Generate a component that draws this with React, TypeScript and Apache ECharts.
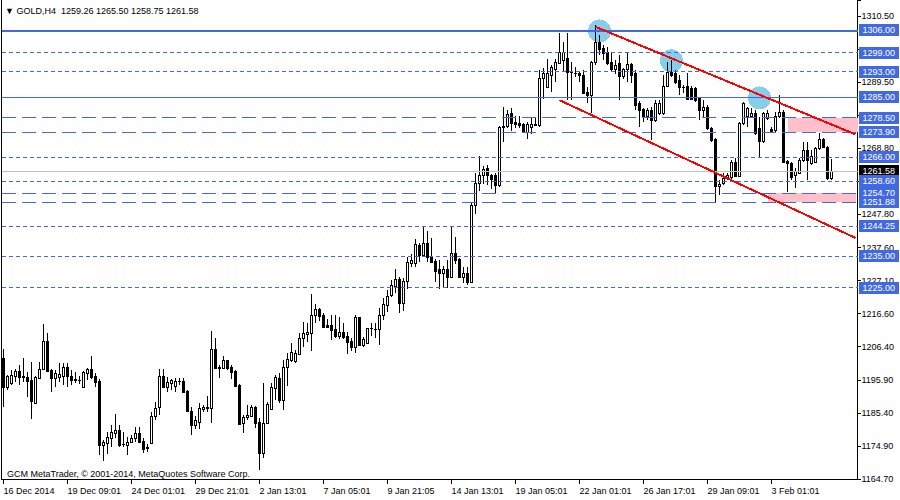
import React, { useEffect, useRef } from "react";
import * as echarts from "echarts";

// ---- data ----
const headerText = "\u25BC GOLD,H4  1259.26 1265.50 1258.75 1261.58";
const copyrightText = "GCM MetaTrader, \u00A9 2001-2014, MetaQuotes Software Corp.";
const barSlots = 214; // 208 bars + empty space on the right
const timeLabelStep = 16;
const timeLabels = [
  "16 Dec 2014", "19 Dec 09:01", "24 Dec 01:01", "29 Dec 21:01", "2 Jan 13:01",
  "7 Jan 05:01", "9 Jan 21:05", "14 Jan 13:01", "19 Jan 05:01", "22 Jan 01:01",
  "26 Jan 17:01", "29 Jan 09:01", "3 Feb 01:01",
];
const priceMin = 1164.7;
const priceMax = 1315.54;
const priceStep = 10.414;
const priceTickLabels = [
  "1164.70", "1174.90", "1185.40", "1195.90", "1206.40", "1216.60", "1227.10",
  "1237.60", "1247.80", "", "1268.80", "", "1289.50", "", "1310.50",
];

// [open, close, low, high]
const ohlc: number[][] = [
  [1202.7, 1193.6, 1187.3, 1205.6], [1193.6, 1197.1, 1192.7, 1197.4], [1194.9, 1197.4, 1194.2, 1199.0], [1197.1, 1198.6, 1195.2, 1199.3],
  [1198.6, 1196.7, 1194.2, 1200.5], [1197.1, 1196.7, 1195.2, 1202.7], [1196.7, 1195.5, 1190.4, 1198.3], [1195.8, 1189.2, 1183.5, 1201.5],
  [1188.6, 1196.7, 1188.2, 1197.1], [1196.4, 1199.3, 1196.4, 1201.5], [1199.3, 1208.1, 1199.0, 1213.4], [1208.1, 1198.6, 1198.6, 1210.6],
  [1199.0, 1196.4, 1192.0, 1199.3], [1196.4, 1198.0, 1193.6, 1199.0], [1196.7, 1197.7, 1195.2, 1201.2], [1197.1, 1199.9, 1194.2, 1201.2],
  [1199.9, 1197.1, 1193.6, 1201.2], [1197.1, 1195.8, 1194.2, 1199.0], [1196.1, 1195.8, 1194.9, 1198.3], [1195.8, 1195.7, 1194.5, 1197.1],
  [1193.6, 1198.3, 1193.5, 1198.6], [1198.0, 1199.3, 1195.8, 1199.6], [1199.3, 1196.7, 1196.1, 1203.4], [1197.1, 1195.2, 1193.6, 1198.0],
  [1195.5, 1175.3, 1172.2, 1196.1], [1175.3, 1176.3, 1170.3, 1176.9], [1176.0, 1177.8, 1172.5, 1179.4], [1177.5, 1179.4, 1174.7, 1181.6],
  [1179.1, 1180.0, 1177.5, 1185.1], [1180.0, 1175.3, 1174.7, 1181.6], [1175.6, 1175.5, 1174.7, 1179.4], [1175.3, 1176.3, 1172.2, 1177.8],
  [1176.3, 1177.5, 1176.0, 1178.5], [1177.5, 1179.1, 1176.3, 1181.0], [1179.1, 1176.3, 1176.0, 1181.0], [1176.6, 1174.1, 1172.8, 1177.5],
  [1174.7, 1174.4, 1173.1, 1175.6], [1176.0, 1184.5, 1175.6, 1185.7], [1184.5, 1187.0, 1183.2, 1188.9], [1187.3, 1197.1, 1184.8, 1199.3],
  [1197.1, 1193.6, 1193.5, 1199.3], [1193.6, 1195.2, 1192.0, 1196.7], [1194.9, 1195.8, 1192.7, 1196.1], [1193.9, 1195.5, 1192.0, 1196.4],
  [1195.5, 1195.3, 1194.2, 1196.4], [1195.5, 1192.0, 1191.7, 1196.4], [1192.3, 1186.0, 1185.7, 1192.7], [1186.0, 1181.6, 1178.5, 1187.3],
  [1181.6, 1183.2, 1180.4, 1184.5], [1182.6, 1187.0, 1180.4, 1188.6], [1186.7, 1187.3, 1185.7, 1187.9], [1187.0, 1187.3, 1185.7, 1190.8],
  [1187.0, 1205.6, 1182.3, 1211.2], [1205.6, 1199.6, 1199.3, 1209.0], [1199.9, 1199.6, 1196.4, 1200.5], [1199.6, 1202.1, 1199.3, 1203.4],
  [1202.1, 1199.6, 1199.0, 1202.3], [1199.9, 1198.3, 1196.1, 1200.5], [1198.6, 1193.9, 1193.6, 1199.0], [1194.2, 1181.9, 1181.6, 1194.5],
  [1182.3, 1184.1, 1179.1, 1184.8], [1184.1, 1184.8, 1183.2, 1187.9], [1184.5, 1187.3, 1184.1, 1187.9], [1187.3, 1182.3, 1180.7, 1187.6],
  [1182.6, 1172.8, 1167.5, 1183.8], [1172.8, 1182.3, 1171.2, 1194.9], [1182.3, 1188.2, 1182.2, 1188.9], [1186.7, 1193.6, 1186.4, 1194.9],
  [1193.3, 1196.7, 1189.5, 1197.4], [1196.4, 1189.5, 1188.6, 1198.0], [1189.5, 1199.9, 1186.4, 1202.1], [1199.9, 1202.4, 1193.9, 1204.3],
  [1202.1, 1204.6, 1201.5, 1207.5], [1201.8, 1204.3, 1201.2, 1205.3], [1204.0, 1209.0, 1203.7, 1210.6], [1209.0, 1210.6, 1206.2, 1214.1],
  [1210.3, 1210.9, 1207.8, 1213.8], [1210.6, 1216.3, 1204.9, 1222.9], [1216.3, 1218.2, 1213.8, 1219.7], [1218.2, 1216.0, 1214.4, 1218.4],
  [1216.3, 1212.5, 1212.4, 1216.9], [1213.1, 1212.5, 1212.2, 1215.0], [1213.1, 1211.6, 1208.4, 1216.3], [1211.9, 1209.7, 1209.0, 1216.3],
  [1209.7, 1210.9, 1208.7, 1215.6], [1210.9, 1209.3, 1208.7, 1213.8], [1209.7, 1207.8, 1204.0, 1210.9], [1208.1, 1206.2, 1204.9, 1209.0],
  [1206.2, 1215.6, 1204.3, 1216.3], [1215.6, 1206.8, 1206.5, 1215.8], [1206.8, 1208.7, 1206.2, 1209.3], [1207.5, 1212.2, 1207.4, 1212.3],
  [1212.2, 1212.0, 1209.7, 1213.8], [1211.9, 1211.8, 1209.0, 1213.8], [1211.9, 1216.3, 1206.8, 1218.5], [1216.3, 1219.7, 1214.7, 1221.6],
  [1219.4, 1222.3, 1217.2, 1224.2], [1222.6, 1225.7, 1221.9, 1227.3], [1225.4, 1227.6, 1223.2, 1230.8], [1227.6, 1220.1, 1216.9, 1228.3],
  [1220.1, 1227.0, 1217.5, 1227.9], [1227.0, 1233.0, 1224.5, 1234.5], [1232.7, 1233.6, 1231.4, 1235.5], [1232.7, 1238.6, 1231.4, 1240.2],
  [1238.3, 1235.2, 1233.0, 1239.0], [1235.2, 1239.0, 1234.9, 1244.0], [1239.0, 1234.5, 1233.0, 1242.7], [1234.5, 1233.0, 1232.7, 1240.5],
  [1233.3, 1230.1, 1226.7, 1233.9], [1230.8, 1229.5, 1224.5, 1233.6], [1229.5, 1230.8, 1224.8, 1231.7], [1230.8, 1228.3, 1224.8, 1233.6],
  [1228.3, 1235.8, 1228.1, 1244.0], [1235.8, 1233.6, 1232.3, 1240.8], [1233.9, 1228.3, 1228.1, 1234.2], [1228.3, 1229.5, 1226.4, 1231.4],
  [1229.5, 1226.7, 1225.7, 1231.4], [1226.7, 1250.9, 1226.4, 1251.9], [1250.9, 1257.9, 1248.1, 1261.0], [1257.9, 1260.4, 1255.3, 1266.4],
  [1260.4, 1262.3, 1257.5, 1263.2], [1262.6, 1260.4, 1257.2, 1263.5], [1260.4, 1259.1, 1256.0, 1260.7], [1260.4, 1257.2, 1254.7, 1261.0],
  [1257.2, 1275.5, 1256.6, 1275.8], [1275.5, 1275.8, 1270.8, 1281.8], [1275.8, 1279.6, 1275.2, 1280.9], [1279.9, 1276.8, 1274.2, 1281.5],
  [1277.1, 1276.4, 1275.2, 1279.0], [1276.8, 1276.1, 1275.2, 1279.0], [1276.4, 1273.9, 1273.6, 1276.8], [1273.9, 1276.4, 1271.7, 1277.1],
  [1275.5, 1276.4, 1273.3, 1278.3], [1276.4, 1276.1, 1275.8, 1278.3], [1276.1, 1290.9, 1275.5, 1293.5], [1290.9, 1292.5, 1284.3, 1294.1],
  [1288.1, 1292.5, 1288.0, 1296.9], [1291.9, 1294.4, 1286.5, 1295.0], [1293.5, 1296.0, 1289.7, 1296.9], [1295.7, 1299.1, 1295.6, 1305.1],
  [1296.6, 1299.1, 1292.8, 1302.3], [1297.2, 1292.8, 1284.0, 1305.1], [1292.8, 1292.6, 1284.0, 1296.0], [1292.5, 1292.4, 1291.3, 1294.4],
  [1292.5, 1291.9, 1289.7, 1292.8], [1291.9, 1286.2, 1286.1, 1293.5], [1286.5, 1285.6, 1283.1, 1288.1], [1285.6, 1296.0, 1279.9, 1296.2],
  [1296.0, 1302.0, 1295.0, 1307.6], [1302.0, 1299.8, 1298.2, 1304.5], [1300.4, 1298.8, 1296.6, 1301.3], [1299.1, 1295.7, 1295.0, 1300.7],
  [1296.0, 1293.5, 1292.8, 1298.8], [1293.5, 1295.0, 1292.2, 1296.6], [1295.7, 1291.3, 1284.0, 1298.2], [1291.3, 1293.5, 1290.6, 1294.1],
  [1293.5, 1295.3, 1289.7, 1298.8], [1295.3, 1291.9, 1289.4, 1295.7], [1292.5, 1282.4, 1280.9, 1293.5], [1283.1, 1280.9, 1275.5, 1283.7],
  [1281.2, 1279.0, 1277.1, 1281.5], [1279.0, 1280.9, 1277.7, 1281.5], [1280.9, 1277.7, 1271.4, 1281.8], [1277.7, 1283.1, 1277.1, 1284.0],
  [1279.9, 1283.1, 1279.3, 1284.0], [1279.9, 1288.4, 1279.3, 1291.9], [1288.4, 1292.8, 1288.1, 1296.0], [1292.8, 1291.9, 1291.3, 1296.6],
  [1292.5, 1289.7, 1289.0, 1293.5], [1290.3, 1288.1, 1285.6, 1291.9], [1288.1, 1288.0, 1286.2, 1288.7], [1288.4, 1284.3, 1284.0, 1292.5],
  [1287.8, 1284.3, 1284.0, 1288.4], [1287.8, 1284.0, 1283.4, 1288.1], [1284.6, 1280.9, 1277.7, 1284.9], [1280.9, 1281.8, 1278.6, 1284.0],
  [1281.8, 1275.2, 1274.6, 1282.4], [1275.2, 1271.4, 1270.8, 1275.5], [1271.7, 1256.9, 1251.9, 1272.0], [1256.9, 1257.5, 1254.1, 1258.8],
  [1257.9, 1259.4, 1257.2, 1261.0], [1259.4, 1260.4, 1258.8, 1261.0], [1259.8, 1264.5, 1258.8, 1265.1], [1264.5, 1260.1, 1259.8, 1265.7],
  [1260.1, 1276.8, 1259.8, 1277.1], [1276.8, 1283.1, 1276.1, 1283.4], [1278.7, 1281.5, 1275.5, 1281.8], [1278.7, 1279.9, 1278.3, 1281.5],
  [1279.9, 1273.6, 1273.0, 1280.9], [1275.2, 1271.1, 1265.7, 1278.7], [1271.1, 1279.9, 1270.5, 1280.2], [1278.3, 1279.9, 1277.7, 1280.9],
  [1274.9, 1273.9, 1273.6, 1275.5], [1274.6, 1278.7, 1273.9, 1280.2], [1278.7, 1280.2, 1278.3, 1285.6], [1280.2, 1264.5, 1264.2, 1280.9],
  [1264.8, 1264.2, 1255.0, 1265.1], [1264.2, 1259.8, 1258.8, 1264.5], [1260.4, 1261.6, 1256.3, 1262.6], [1261.0, 1265.1, 1260.7, 1265.7],
  [1265.1, 1268.3, 1264.5, 1270.8], [1268.3, 1265.1, 1258.8, 1270.8], [1264.2, 1266.1, 1263.5, 1268.3], [1264.5, 1268.9, 1264.2, 1269.2],
  [1268.9, 1271.7, 1268.3, 1273.6], [1271.7, 1269.2, 1268.9, 1272.0], [1269.2, 1259.3, 1258.7, 1269.5], [1259.26, 1261.58, 1258.75, 1265.5],
];

const currentPrice = 1261.58;
const levelPrices = [1306.0, 1299.0, 1293.0, 1285.0, 1278.5, 1273.9, 1266.0, 1258.6, 1254.7, 1251.88, 1244.25, 1235.0, 1225.0];
const levelKinds = ["thick", "dot", "dot", "solid", "dash", "dash", "dot", "dot", "dash", "dash", "dot", "dot", "dot"];
// [barIndex, price]
const resistanceLine = [[148, 1307.1], [213, 1273.2]];
const supportLine = [[139, 1284.0], [213, 1240.6]];
const peakMarks = [[149, 1305.8], [167, 1296.4], [189, 1284.7]];
// [fromBar, toBar (null = chart edge), lowPrice, highPrice]
const zones: (number | null)[][] = [
  [196, null, 1273.9, 1278.5],
  [191, 213, 1251.88, 1254.7],
];

const FONT = "'Liberation Sans', Arial, sans-serif";
const BLUE = "#4169E1";

export default function App() {
  const ref = useRef<HTMLDivElement>(null);
  useEffect(() => {
    if (!ref.current) return;
    const chart = echarts.init(ref.current, null, { renderer: "svg" });
    const categories = Array.from({ length: barSlots }, (_, i) => String(i));
    const showTime = (i: number) => i % timeLabelStep === 0 && i / timeLabelStep < timeLabels.length;

    const kindStyle = (k: string) => {
      if (k === "thick") return { type: "solid", width: 2 };
      if (k === "solid") return { type: "solid", width: 1 };
      if (k === "dash") return { type: [14, 6], width: 1 };
      return { type: [4, 3], width: 1 };
    };

    const boxLabel = (text: string, bg: string) => ({
      show: true,
      position: "end",
      distance: 1,
      formatter: () => text,
      color: "#fff",
      backgroundColor: bg,
      padding: [2, 4, 1, 4],
      fontSize: 9,
      fontFamily: FONT,
    });

    const levelLines: any[] = [
      {
        yAxis: currentPrice,
        lineStyle: { color: "#C0C0C0", type: "solid", width: 1 },
        label: boxLabel(currentPrice.toFixed(2), "#000"),
      },
      ...levelPrices.map((p, i) => ({
        yAxis: p,
        lineStyle: { color: BLUE, ...kindStyle(levelKinds[i]) },
        label: boxLabel(p.toFixed(2), BLUE),
      })),
    ];
    const trend = (pts: number[][]) => [
      { coord: [pts[0][0], pts[0][1]], lineStyle: { color: "#FF0000", width: 2, type: "solid" }, label: { show: false } },
      { coord: [pts[1][0], pts[1][1]] },
    ];

    chart.setOption({
      animation: false,
      backgroundColor: "#fff",
      title: {
        text: headerText,
        left: 5,
        top: 6,
        padding: 0,
        textStyle: { fontSize: 9, fontWeight: "normal", color: "#000", fontFamily: FONT },
      },
      graphic: [
        {
          type: "text",
          left: 7,
          top: 469,
          style: { text: copyrightText, fontSize: 9, fill: "#000", fontFamily: FONT },
        },
      ],
      grid: {
        left: 1.5,
        right: 42.5,
        top: 0,
        bottom: 21,
        show: false,
      },
      xAxis: {
        type: "category",
        data: categories,
        boundaryGap: true,
        axisLine: { show: true, lineStyle: { color: "#000", width: 1 } },
        axisTick: {
          show: true,
          alignWithLabel: true,
          interval: (i: number) => showTime(i),
          length: 5,
          lineStyle: { color: "#000" },
        },
        axisLabel: {
          interval: (i: number) => showTime(i),
          formatter: (v: string) => timeLabels[Number(v) / timeLabelStep] ?? "",
          align: "left",
          margin: 7,
          fontSize: 9,
          color: "#000",
          fontFamily: FONT,
        },
        splitLine: { show: false },
      },
      yAxis: [
        {
          type: "value",
          position: "right",
          min: priceMin,
          max: priceMax,
          interval: priceStep,
          splitLine: { show: false },
          axisLine: { show: true, lineStyle: { color: "#000" } },
          axisTick: { show: true, length: 3, lineStyle: { color: "#000" } },
          axisLabel: {
            formatter: (_v: number, i: number) => priceTickLabels[i] ?? "",
            margin: 4,
            fontSize: 9,
            color: "#000",
            fontFamily: FONT,
          },
        },
        {
          type: "value",
          position: "left",
          min: priceMin,
          max: priceMax,
          splitLine: { show: false },
          axisLine: { show: true, onZero: false, lineStyle: { color: "#000" } },
          axisTick: { show: false },
          axisLabel: { show: false },
        },
      ],
      series: [
        {
          type: "scatter",
          data: peakMarks,
          symbol: "circle",
          symbolSize: 23,
          itemStyle: { color: "#87CEEB", opacity: 1 },
          silent: true,
          z: 1,
        },
        {
          type: "candlestick",
          data: ohlc,
          barWidth: 3,
          z: 2,
          silent: true,
          itemStyle: {
            color: "#FFFFFF",
            color0: "#000000",
            borderColor: "#000000",
            borderColor0: "#000000",
            borderWidth: 1,
          },
          markArea: {
            silent: true,
            itemStyle: { color: "#FFC0CB" },
            data: zones.map((z) => [
              { xAxis: z[0], yAxis: z[3] },
              z[1] == null ? { yAxis: z[2] } : { xAxis: z[1], yAxis: z[2] },
            ]),
          },
          markLine: {
            silent: true,
            symbol: ["none", "none"],
            precision: 2,
            data: [...levelLines, trend(resistanceLine), trend(supportLine)],
          },
        },
      ],
    });
    return () => chart.dispose();
  }, []);

  return (
    <div
      ref={ref}
      style={{
        position: "fixed",
        left: 0,
        top: 0,
        width: 900,
        height: 500,
        background: "#fff",
        shapeRendering: "crispEdges",
      } as any}
    />
  );
}
